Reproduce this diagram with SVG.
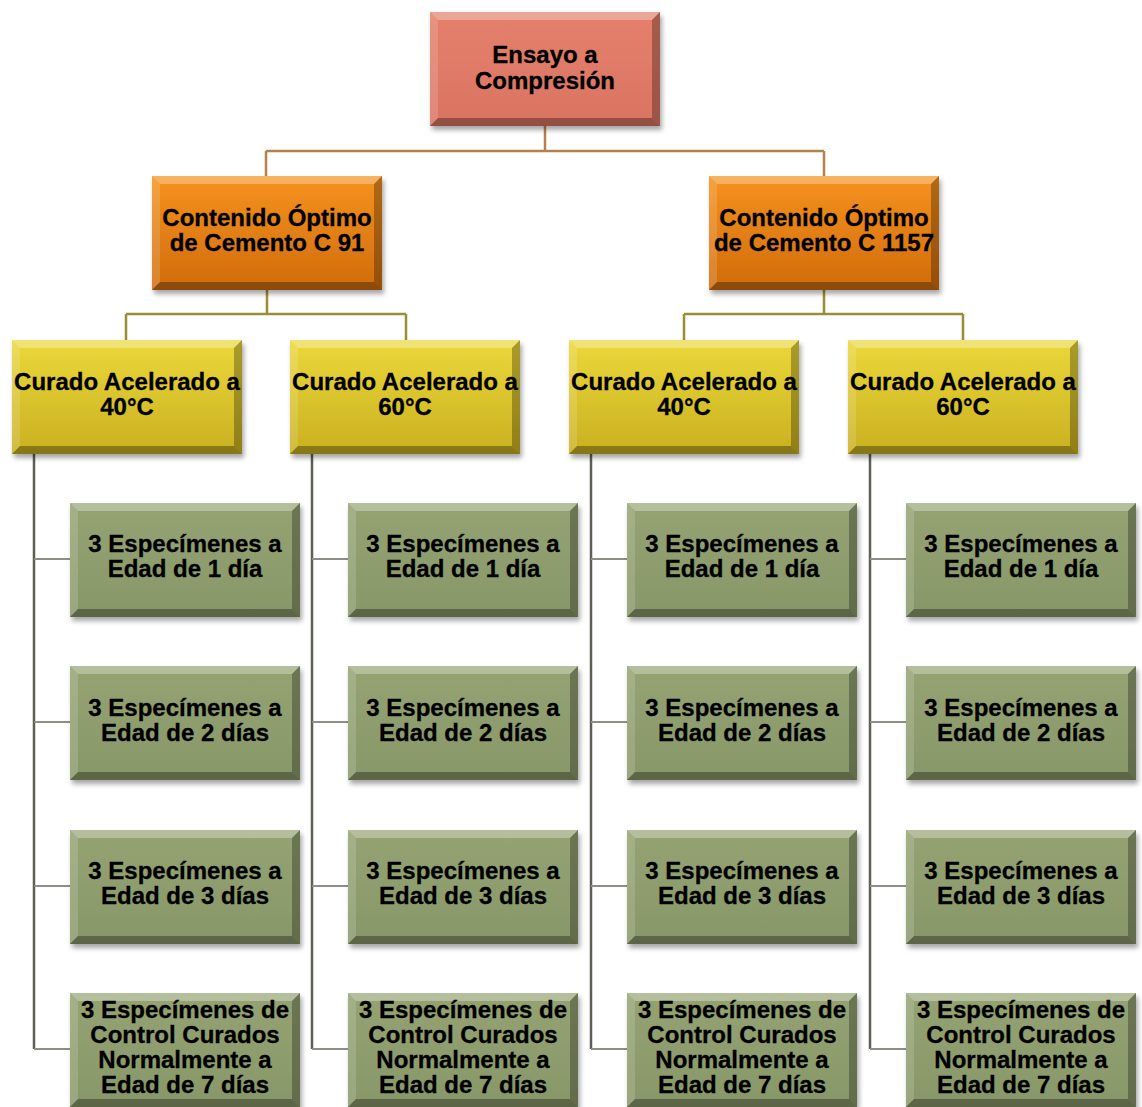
<svg xmlns="http://www.w3.org/2000/svg" xmlns:xlink="http://www.w3.org/1999/xlink" width="1142" height="1107" viewBox="0 0 1142 1107">
<defs>
<style>
.t{font-family:"Liberation Sans",Arial,sans-serif;font-weight:bold;font-size:24px;fill:#000;stroke:#000;stroke-width:0.3;text-anchor:middle}
.c1{stroke:#B8804A;stroke-width:2.5;fill:none}
.c2{stroke:#9A8E34;stroke-width:2.5;fill:none}
.c3{stroke:#5E5E55;stroke-width:2.5;fill:none}
.c3h{stroke:#8E8E86;stroke-width:2;fill:none}
</style>
<filter id="sh" x="-10%" y="-10%" width="125%" height="130%">
<feDropShadow dx="2" dy="4" stdDeviation="2.5" flood-color="#000" flood-opacity="0.35"/>
</filter>
<linearGradient id="gTop" x1="0" y1="0" x2="0" y2="1">
<stop offset="0" stop-color="#E4806C"/><stop offset="1" stop-color="#DA7462"/>
</linearGradient>
<linearGradient id="gOr" x1="0" y1="0" x2="0" y2="1">
<stop offset="0" stop-color="#F5921E"/><stop offset="1" stop-color="#D06C0C"/>
</linearGradient>
<linearGradient id="gYe" x1="0" y1="0" x2="0" y2="1">
<stop offset="0" stop-color="#EBD83A"/><stop offset="1" stop-color="#C9B021"/>
</linearGradient>
<linearGradient id="gGr" x1="0" y1="0" x2="0" y2="1">
<stop offset="0" stop-color="#95A373"/><stop offset="1" stop-color="#889769"/>
</linearGradient>
<g id="bevel">
<polygon points="0,0 230,0 222,8 8,8" fill="#fff" opacity="0.3"/>
<polygon points="0,0 8,8 8,106 0,114" fill="#fff" opacity="0.15"/>
<polygon points="230,0 230,114 222,106 222,8" fill="#000" opacity="0.28"/>
<polygon points="0,114 230,114 222,106 8,106" fill="#000" opacity="0.32"/>
</g>
</defs>
<rect width="1142" height="1107" fill="#fff"/>

<g id="connectors">
<path class="c1" d="M545,126 V151 M266,151 H824 M266,151 V176 M824,151 V176"/>
<path class="c2" d="M267,290 V314 M126,314 H406 M126,314 V340 M406,314 V340"/>
<path class="c2" d="M824,290 V314 M684,314 H963 M684,314 V340 M963,314 V340"/>
<path class="c3" d="M34,454 V1049 M312,454 V1049 M591,454 V1049 M870,454 V1049"/>
<path class="c3h" d="M34,559 H70 M34,722 H70 M34,886 H70 M34,1049 H70"/>
<path class="c3h" d="M312,559 H348 M312,722 H348 M312,886 H348 M312,1049 H348"/>
<path class="c3h" d="M591,559 H627 M591,722 H627 M591,886 H627 M591,1049 H627"/>
<path class="c3h" d="M870,559 H906 M870,722 H906 M870,886 H906 M870,1049 H906"/>
</g>

<g id="n-top">
<rect x="430" y="12" width="230" height="114" fill="url(#gTop)" filter="url(#sh)"/>
<use xlink:href="#bevel" x="430" y="12"/>
<text class="t" x="545" y="63">Ensayo a</text>
<text class="t" x="545" y="89">Compresión</text>
</g>

<g id="n-c91">
<rect x="152" y="176" width="230" height="114" fill="url(#gOr)" filter="url(#sh)"/>
<use xlink:href="#bevel" x="152" y="176"/>
<text class="t" x="267" y="226">Contenido Óptimo</text>
<text class="t" x="267" y="251">de Cemento C 91</text>
</g>
<g id="n-c1157">
<rect x="709" y="176" width="230" height="114" fill="url(#gOr)" filter="url(#sh)"/>
<use xlink:href="#bevel" x="709" y="176"/>
<text class="t" x="824" y="226">Contenido Óptimo</text>
<text class="t" x="824" y="251">de Cemento C 1157</text>
</g>

<g id="n-y1">
<rect x="12" y="340" width="230" height="114" fill="url(#gYe)" filter="url(#sh)"/>
<use xlink:href="#bevel" x="12" y="340"/>
<text class="t" x="127" y="390">Curado Acelerado a</text>
<text class="t" x="127" y="415">40°C</text>
</g>
<g id="n-y2">
<rect x="290" y="340" width="230" height="114" fill="url(#gYe)" filter="url(#sh)"/>
<use xlink:href="#bevel" x="290" y="340"/>
<text class="t" x="405" y="390">Curado Acelerado a</text>
<text class="t" x="405" y="415">60°C</text>
</g>
<g id="n-y3">
<rect x="569" y="340" width="230" height="114" fill="url(#gYe)" filter="url(#sh)"/>
<use xlink:href="#bevel" x="569" y="340"/>
<text class="t" x="684" y="390">Curado Acelerado a</text>
<text class="t" x="684" y="415">40°C</text>
</g>
<g id="n-y4">
<rect x="848" y="340" width="230" height="114" fill="url(#gYe)" filter="url(#sh)"/>
<use xlink:href="#bevel" x="848" y="340"/>
<text class="t" x="963" y="390">Curado Acelerado a</text>
<text class="t" x="963" y="415">60°C</text>
</g>

<!-- column 1 -->
<g id="g1-1"><rect x="70" y="503" width="230" height="114" fill="url(#gGr)" filter="url(#sh)"/><use xlink:href="#bevel" x="70" y="503"/>
<text class="t" x="185" y="552">3 Especímenes a</text><text class="t" x="185" y="577">Edad de 1 día</text></g>
<g id="g1-2"><rect x="70" y="666" width="230" height="114" fill="url(#gGr)" filter="url(#sh)"/><use xlink:href="#bevel" x="70" y="666"/>
<text class="t" x="185" y="716">3 Especímenes a</text><text class="t" x="185" y="741">Edad de 2 días</text></g>
<g id="g1-3"><rect x="70" y="830" width="230" height="114" fill="url(#gGr)" filter="url(#sh)"/><use xlink:href="#bevel" x="70" y="830"/>
<text class="t" x="185" y="879">3 Especímenes a</text><text class="t" x="185" y="904">Edad de 3 días</text></g>
<g id="g1-4"><rect x="70" y="993" width="230" height="114" fill="url(#gGr)" filter="url(#sh)"/><use xlink:href="#bevel" x="70" y="993"/>
<text class="t" x="185" y="1018">3 Especímenes de</text><text class="t" x="185" y="1043">Control Curados</text><text class="t" x="185" y="1068">Normalmente a</text><text class="t" x="185" y="1093">Edad de 7 días</text></g>

<!-- column 2 -->
<g id="g2-1"><rect x="348" y="503" width="230" height="114" fill="url(#gGr)" filter="url(#sh)"/><use xlink:href="#bevel" x="348" y="503"/>
<text class="t" x="463" y="552">3 Especímenes a</text><text class="t" x="463" y="577">Edad de 1 día</text></g>
<g id="g2-2"><rect x="348" y="666" width="230" height="114" fill="url(#gGr)" filter="url(#sh)"/><use xlink:href="#bevel" x="348" y="666"/>
<text class="t" x="463" y="716">3 Especímenes a</text><text class="t" x="463" y="741">Edad de 2 días</text></g>
<g id="g2-3"><rect x="348" y="830" width="230" height="114" fill="url(#gGr)" filter="url(#sh)"/><use xlink:href="#bevel" x="348" y="830"/>
<text class="t" x="463" y="879">3 Especímenes a</text><text class="t" x="463" y="904">Edad de 3 días</text></g>
<g id="g2-4"><rect x="348" y="993" width="230" height="114" fill="url(#gGr)" filter="url(#sh)"/><use xlink:href="#bevel" x="348" y="993"/>
<text class="t" x="463" y="1018">3 Especímenes de</text><text class="t" x="463" y="1043">Control Curados</text><text class="t" x="463" y="1068">Normalmente a</text><text class="t" x="463" y="1093">Edad de 7 días</text></g>

<!-- column 3 -->
<g id="g3-1"><rect x="627" y="503" width="230" height="114" fill="url(#gGr)" filter="url(#sh)"/><use xlink:href="#bevel" x="627" y="503"/>
<text class="t" x="742" y="552">3 Especímenes a</text><text class="t" x="742" y="577">Edad de 1 día</text></g>
<g id="g3-2"><rect x="627" y="666" width="230" height="114" fill="url(#gGr)" filter="url(#sh)"/><use xlink:href="#bevel" x="627" y="666"/>
<text class="t" x="742" y="716">3 Especímenes a</text><text class="t" x="742" y="741">Edad de 2 días</text></g>
<g id="g3-3"><rect x="627" y="830" width="230" height="114" fill="url(#gGr)" filter="url(#sh)"/><use xlink:href="#bevel" x="627" y="830"/>
<text class="t" x="742" y="879">3 Especímenes a</text><text class="t" x="742" y="904">Edad de 3 días</text></g>
<g id="g3-4"><rect x="627" y="993" width="230" height="114" fill="url(#gGr)" filter="url(#sh)"/><use xlink:href="#bevel" x="627" y="993"/>
<text class="t" x="742" y="1018">3 Especímenes de</text><text class="t" x="742" y="1043">Control Curados</text><text class="t" x="742" y="1068">Normalmente a</text><text class="t" x="742" y="1093">Edad de 7 días</text></g>

<!-- column 4 -->
<g id="g4-1"><rect x="906" y="503" width="230" height="114" fill="url(#gGr)" filter="url(#sh)"/><use xlink:href="#bevel" x="906" y="503"/>
<text class="t" x="1021" y="552">3 Especímenes a</text><text class="t" x="1021" y="577">Edad de 1 día</text></g>
<g id="g4-2"><rect x="906" y="666" width="230" height="114" fill="url(#gGr)" filter="url(#sh)"/><use xlink:href="#bevel" x="906" y="666"/>
<text class="t" x="1021" y="716">3 Especímenes a</text><text class="t" x="1021" y="741">Edad de 2 días</text></g>
<g id="g4-3"><rect x="906" y="830" width="230" height="114" fill="url(#gGr)" filter="url(#sh)"/><use xlink:href="#bevel" x="906" y="830"/>
<text class="t" x="1021" y="879">3 Especímenes a</text><text class="t" x="1021" y="904">Edad de 3 días</text></g>
<g id="g4-4"><rect x="906" y="993" width="230" height="114" fill="url(#gGr)" filter="url(#sh)"/><use xlink:href="#bevel" x="906" y="993"/>
<text class="t" x="1021" y="1018">3 Especímenes de</text><text class="t" x="1021" y="1043">Control Curados</text><text class="t" x="1021" y="1068">Normalmente a</text><text class="t" x="1021" y="1093">Edad de 7 días</text></g>
</svg>
